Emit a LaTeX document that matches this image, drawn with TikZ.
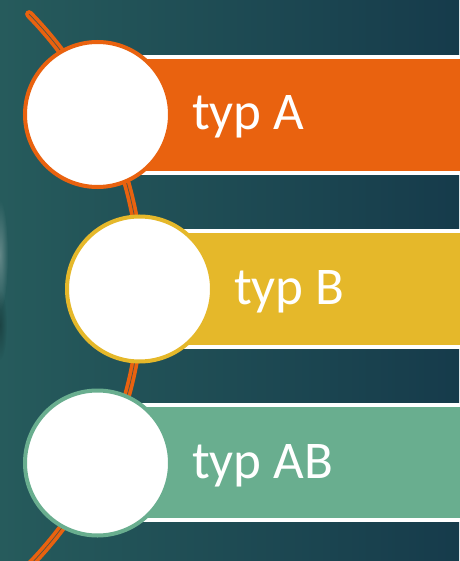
\documentclass[tikz,border=0pt]{standalone}
\usepackage{fontspec}
\setmainfont{Carlito}
\usetikzlibrary{fadings}

\definecolor{bgL}{HTML}{265B5C}
\definecolor{bgR}{HTML}{163B4B}
\definecolor{bgMid}{HTML}{1F4D56}
\definecolor{ora}{HTML}{E9620F}
\definecolor{yel}{HTML}{E5B82A}
\definecolor{grn}{HTML}{69AE8F}

\tikzfading[name=softblob, inner color=transparent!0, outer color=transparent!100]

\tikzset{
  bar/.style={draw=white, line width=3.5pt},
  disc/.style={circle, fill=white, line width=4pt, minimum size=145pt, inner sep=0pt},
  label/.style={anchor=base west, inner sep=0pt, text=white,
    font=\fontsize{53}{62}\selectfont},
  thread/.style={draw=bgMid!75!ora, line width=0.7pt, line cap=round,
    preaction={draw=ora, line width=8pt, line cap=round}}
}

\begin{document}
\begin{tikzpicture}[x=1pt, y=-1pt]
  \useasboundingbox (0,0) rectangle (459,561);
  % background
  \shade[left color=bgL, right color=bgR] (0,0) rectangle (459,561);
  \fill[white!85!gray, opacity=0.3, path fading=softblob] (0,255) ellipse (8 and 55);
  \fill[black, opacity=0.25, path fading=softblob] (0,325) ellipse (7 and 35);

  % curved thread behind the discs
  \coordinate (arcC) at (-253.6,290);
  \draw[thread] (arcC) ++(-44.3:395) arc[start angle=-44.3, end angle=48, radius=395];

  % coloured bars
  \draw[bar, fill=ora] (143,57) rectangle (470,173);
  \draw[bar, fill=yel] (185,231) rectangle (470,347);
  \draw[bar, fill=grn] (143,405) rectangle (470,520);

  % discs
  \node[disc, draw=ora] (discA) at (97.5,114.5) {};
  \node[disc, draw=yel] (discB) at (139.5,289) {};
  \node[disc, draw=grn] (discAB) at (97.5,463) {};

  % labels
  \node[label] (labA) at (192,130) {typ A};
  \node[label] (labB) at (234,304) {typ B};
  \node[label] (labAB) at (192,478) {typ AB};
\end{tikzpicture}
\end{document}
